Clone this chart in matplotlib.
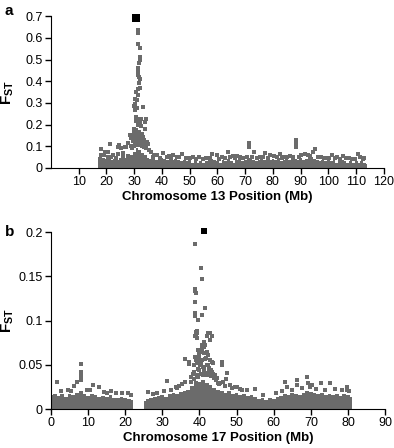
import numpy as np
import matplotlib
matplotlib.use("Agg")
import matplotlib.pyplot as plt

plt.rcParams['font.family'] = ['Liberation Sans', 'DejaVu Sans']
plt.rcParams['mathtext.fontset'] = 'custom'
plt.rcParams['mathtext.rm'] = 'Liberation Sans'
plt.rcParams['mathtext.bf'] = 'Liberation Sans:bold'

GRAY = '#6b6b6b'

# ---- chromosome 13 (panel a) ----
# top of the dense SNP cloud, one value per Mb starting at 17 Mb
chr13_band_start = 17
chr13_band_top = [0.05, 0.055, 0.045, 0.04, 0.045, 0.035, 0.04, 0.035, 0.045, 0.04,
                  0.045, 0.05, 0.06, 0.075, 0.09, 0.085, 0.07, 0.06, 0.045, 0.04,
                  0.045, 0.035, 0.04, 0.045, 0.04, 0.035, 0.04, 0.035, 0.04, 0.035,
                  0.03, 0.035, 0.03, 0.035, 0.025, 0.03, 0.025, 0.03, 0.025, 0.03,
                  0.035, 0.04, 0.035, 0.03, 0.025, 0.035, 0.03, 0.04, 0.03, 0.025,
                  0.035, 0.04, 0.03, 0.035, 0.04, 0.045, 0.035, 0.03, 0.035, 0.04,
                  0.035, 0.045, 0.035, 0.04, 0.035, 0.045, 0.03, 0.035, 0.04, 0.035,
                  0.045, 0.04, 0.035, 0.045, 0.035, 0.04, 0.045, 0.05, 0.04, 0.035,
                  0.03, 0.035, 0.03, 0.035, 0.03, 0.035, 0.025, 0.03, 0.035, 0.03,
                  0.025, 0.03, 0.025, 0.03, 0.025, 0.03, 0.025, 0.02]

# individual SNPs above the cloud (Mb, Fst)
chr13_pos = [31.2, 31.2, 31.2, 32.1, 32.0, 32.0, 31.8, 31.5, 31.5, 31.2, 31.8, 32.1,
             31.8, 32.1, 31.5, 30.8, 31.2, 30.2, 31.1, 30.4, 30.0, 30.9, 30.3, 33.2,
             30.8, 31.4, 32.6, 34.2, 30.5, 32.0, 33.8, 31.2, 32.6, 30.0, 30.8, 33.8,
             31.7, 24.4, 25.4, 26.6, 27.8, 29.0, 28.4, 18.2, 19.4, 20.6, 21.2, 24.2,
             29.5, 30.1, 30.6, 31.0, 31.3, 31.9, 32.4, 32.8, 33.3, 33.6, 34.5, 35.0,
             29.7, 30.4, 31.6, 32.2, 33.0, 34.0, 28.8, 35.5, 36.2, 27.2,
             29.3, 30.2, 30.7, 31.4, 32.3, 32.9, 33.5, 34.3, 29.9, 31.1, 32.7, 33.9,
             71.4, 71.4, 88.3, 88.3, 88.3, 63.8, 73.3, 95.2, 94.6, 58.1, 59.7, 51.3,
             77.1, 79.0, 82.6, 85.0, 86.2, 91.6, 92.8, 101.2, 105.4, 110.8, 111.4,
             68.1, 65.7, 38.1, 40.4, 44.0, 47.1, 18.2, 20.6, 24.2, 22.5, 26.0, 37.0,
             42.5, 46.0, 53.5, 56.0, 61.5, 67.0, 75.5, 80.5, 84.0, 90.0, 97.5, 99.0,
             103.0, 107.5, 113.0,
             19.0, 21.8, 23.3, 25.8, 27.6, 36.8, 39.2, 41.7, 43.4, 45.3, 48.6, 50.2,
             52.4, 54.8, 57.3, 60.4, 62.7, 64.6, 66.5, 69.3, 70.6, 72.4, 74.4, 76.3,
             78.2, 81.4, 83.3, 87.2, 89.4, 93.5, 96.4, 98.3, 100.3, 102.2, 104.3,
             106.3, 108.4, 109.6, 112.3]
chr13_fst = [0.635, 0.62, 0.573, 0.555, 0.51, 0.496, 0.486, 0.463, 0.449, 0.427, 0.42, 0.409,
             0.394, 0.371, 0.366, 0.348, 0.335, 0.32, 0.312, 0.297, 0.286, 0.277, 0.267, 0.282,
             0.236, 0.228, 0.228, 0.228, 0.216, 0.213, 0.21, 0.198, 0.194, 0.182, 0.175, 0.182,
             0.167, 0.106, 0.09, 0.098, 0.113, 0.136, 0.152, 0.06, 0.075, 0.052, 0.109, 0.098,
             0.15, 0.16, 0.145, 0.155, 0.165, 0.15, 0.14, 0.158, 0.145, 0.13, 0.12, 0.11,
             0.125, 0.135, 0.138, 0.142, 0.128, 0.115, 0.1, 0.085, 0.075, 0.098,
             0.09, 0.11, 0.12, 0.105, 0.118, 0.1, 0.095, 0.09, 0.1, 0.125, 0.108, 0.1,
             0.113, 0.098, 0.129, 0.113, 0.098, 0.075, 0.075, 0.086, 0.075, 0.064, 0.06, 0.052,
             0.068, 0.06, 0.064, 0.052, 0.055, 0.064, 0.06, 0.06, 0.055, 0.064, 0.052,
             0.052, 0.055, 0.06, 0.068, 0.06, 0.064, 0.086, 0.075, 0.064, 0.058, 0.07, 0.058,
             0.055, 0.052, 0.05, 0.048, 0.052, 0.055, 0.05, 0.055, 0.052, 0.058, 0.05, 0.048,
             0.052, 0.048, 0.045,
             0.06, 0.05, 0.048, 0.052, 0.055, 0.05, 0.048, 0.05, 0.046, 0.05, 0.044, 0.046,
             0.042, 0.04, 0.045, 0.042, 0.046, 0.05, 0.044, 0.048, 0.05, 0.052, 0.046, 0.05,
             0.048, 0.05, 0.046, 0.052, 0.05, 0.056, 0.05, 0.045, 0.044, 0.046, 0.042,
             0.044, 0.04, 0.042, 0.04]
chr13_top = (30.6, 0.69)

# ---- chromosome 17 (panel b) ----
chr17_band1_start = 0
chr17_band1_top = [0.016, 0.017, 0.015, 0.017, 0.014, 0.017, 0.016, 0.018, 0.02, 0.017,
                   0.015, 0.017, 0.016, 0.014, 0.015, 0.014, 0.016, 0.013, 0.012, 0.014,
                   0.013, 0.011, 0.01]
chr17_band2_start = 25
chr17_band2_top = [0.009, 0.011, 0.013, 0.014, 0.015, 0.016, 0.014, 0.017, 0.018, 0.017,
                   0.019, 0.02, 0.022, 0.026, 0.032, 0.03, 0.033, 0.029, 0.027, 0.024,
                   0.022, 0.02, 0.018, 0.02, 0.017, 0.018, 0.016, 0.017, 0.015, 0.016,
                   0.014, 0.011, 0.012, 0.01, 0.013, 0.011, 0.014, 0.015, 0.017, 0.016,
                   0.018, 0.017, 0.016, 0.018, 0.02, 0.019, 0.018, 0.017, 0.018, 0.016,
                   0.017, 0.016, 0.017, 0.015, 0.017, 0.016, 0.014]

chr17_pos = [8.1, 8.1, 8.1, 8.1, 8.1, 8.1, 8.1, 1.7, 6.9, 6.3, 11.4, 12.9, 17.5, 20.8, 15.0,
             38.8, 40.3, 40.6, 38.8, 38.8, 39.1, 38.8, 41.5, 38.8, 38.8, 40.6, 39.7, 39.4,
             39.4, 42.7, 39.1, 39.1, 39.4, 38.8, 42.4, 43.3, 42.0, 42.9, 41.1, 40.6, 41.5,
             39.7, 40.2, 41.1, 42.0, 42.4, 38.8, 39.7, 40.6, 41.5, 42.9, 43.3, 39.3, 40.2,
             42.0, 41.1, 43.7, 36.1, 37.3, 37.3, 46.0, 46.0, 47.5, 31.2, 36.1, 26.0, 33.7,
             45.6, 47.2, 63.1, 63.5, 66.2, 66.4, 68.9, 69.3, 69.8, 70.3, 72.7, 75.2, 79.7,
             79.7, 50.0, 50.9, 55.0, 45.1, 46.4, 48.2,
             38.5, 39.0, 39.5, 40.0, 40.5, 41.0, 41.8, 42.2, 43.0, 43.5, 44.2, 38.2, 40.8,
             41.3, 42.6, 39.8, 44.8, 37.8, 35.2, 34.5,
             38.6, 39.2, 39.9, 40.4, 41.2, 41.9, 42.5, 43.1, 43.8, 44.5, 38.4, 39.6, 40.9,
             42.3, 43.6, 37.6, 45.3, 46.8, 48.8, 49.6, 51.5, 52.8, 30.5, 32.4, 34.0, 28.6,
             2.8, 4.5, 5.5, 9.6, 10.5, 14.2, 16.3, 19.0, 21.6, 27.5, 57.0, 60.5, 62.2,
             64.8, 67.6, 71.5, 73.8, 76.6, 78.4, 80.4]
chr17_fst = [0.0505, 0.042, 0.040, 0.038, 0.036, 0.034, 0.033, 0.031, 0.031, 0.026, 0.027,
             0.0245, 0.018, 0.018, 0.018,
             0.186, 0.159, 0.1465, 0.136, 0.133, 0.131, 0.1205, 0.114, 0.108, 0.105, 0.106,
             0.1005, 0.088, 0.0855, 0.0855, 0.087, 0.0836, 0.080, 0.082, 0.0855, 0.0825,
             0.082, 0.078, 0.076, 0.072, 0.072, 0.0667, 0.0648, 0.063, 0.0648, 0.061, 0.059,
             0.057, 0.0554, 0.056, 0.0554, 0.0535, 0.0516, 0.0497, 0.0497, 0.0478, 0.0516,
             0.057, 0.0535, 0.051, 0.0535, 0.0497, 0.041, 0.032, 0.031, 0.0196, 0.025,
             0.029, 0.0336, 0.031, 0.025, 0.0328, 0.027, 0.0358, 0.029, 0.025, 0.027,
             0.0297, 0.0297, 0.025, 0.0215, 0.025, 0.023, 0.023, 0.029, 0.031, 0.027,
             0.05, 0.055, 0.045, 0.06, 0.052, 0.048, 0.058, 0.05, 0.044, 0.042, 0.038,
             0.04, 0.068, 0.07, 0.046, 0.062, 0.035, 0.036, 0.028, 0.026,
             0.042, 0.038, 0.044, 0.04, 0.043, 0.039, 0.045, 0.037, 0.035, 0.033, 0.034,
             0.036, 0.038, 0.041, 0.04, 0.03, 0.028, 0.026, 0.024, 0.025, 0.022, 0.021,
             0.02, 0.022, 0.024, 0.018, 0.02, 0.021, 0.02, 0.022, 0.021, 0.019, 0.02,
             0.018, 0.016, 0.017, 0.016, 0.018, 0.02, 0.022, 0.024, 0.023, 0.022, 0.023,
             0.021, 0.02]
chr17_top = (41.1, 0.201)


def draw_band(ax, start, tops):
    pos = start + np.arange(len(tops))
    ax.fill_between(pos, 0, tops, step='mid', color=GRAY, lw=0)


def style_axis(ax, xmax, xticks, ymax, yticks, xlabel):
    ax.set_xlim(0, xmax)
    ax.set_ylim(0, ymax)
    ax.set_xticks(xticks)
    ax.set_yticks(yticks)
    ax.set_yticklabels([('%.2f' % v).rstrip('0').rstrip('.') for v in yticks])
    for side in ['top', 'right']:
        ax.spines[side].set_visible(False)
    ax.tick_params(direction='out', length=4, width=1.0, labelsize=9, pad=2)
    ax.set_xlabel(xlabel, fontsize=9.5, fontweight='bold', labelpad=2)
    ax.set_ylabel(r'$\mathbf{F_{ST}}$', fontsize=11)
    ax.yaxis.set_label_coords(-0.105, 0.5)


fig = plt.figure(figsize=(3.94, 4.48), dpi=100)

ax1 = fig.add_axes([0.1294, 0.625, 0.845, 0.339])
draw_band(ax1, chr13_band_start, chr13_band_top)
ax1.scatter(chr13_pos, chr13_fst, s=5, marker='s', color=GRAY, lw=0)
ax1.scatter([chr13_top[0]], [chr13_top[1]], s=26, marker='s', color='black', lw=0,
            clip_on=False, zorder=5)
style_axis(ax1, 120, list(range(10, 121, 10)), 0.7, [0, 0.1, 0.2, 0.3, 0.4, 0.5, 0.6, 0.7],
           'Chromosome 13 Position (Mb)')

ax2 = fig.add_axes([0.1294, 0.087, 0.848, 0.395])
draw_band(ax2, chr17_band1_start, chr17_band1_top)
draw_band(ax2, chr17_band2_start, chr17_band2_top)
ax2.scatter(chr17_pos, chr17_fst, s=5, marker='s', color=GRAY, lw=0)
ax2.scatter([chr17_top[0]], [chr17_top[1]], s=16, marker='s', color='black', lw=0,
            clip_on=False, zorder=5)
style_axis(ax2, 90, list(range(0, 91, 10)), 0.2, [0, 0.05, 0.1, 0.15, 0.2],
           'Chromosome 17 Position (Mb)')

fig.text(0.012, 0.975, 'a', fontsize=11, fontweight='bold', va='center')
fig.text(0.012, 0.482, 'b', fontsize=11, fontweight='bold', va='center')

fig.savefig('out.png', dpi=100)
